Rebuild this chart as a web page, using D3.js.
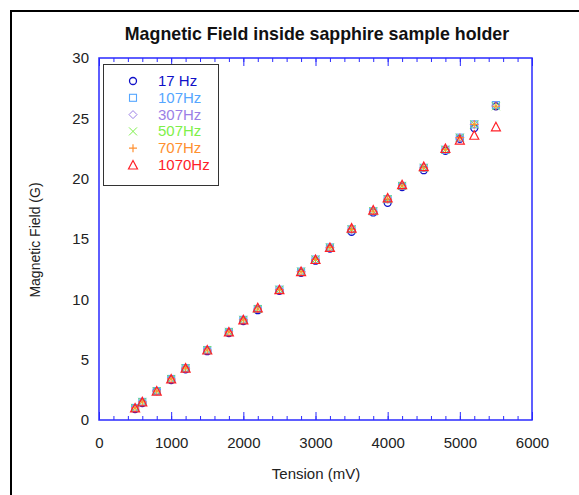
<!DOCTYPE html>
<meta charset="utf-8">
<style>
  body { margin: 0; background: #fff; }
  text { font-family: Arial, "Liberation Sans", sans-serif; }
</style>
<body>
<script src="https://d3js.org/d3.v7.min.js"></script>
<script>

var tension = [500, 600, 800, 1000, 1200, 1500, 1800, 2000, 2200, 2500, 2800, 3000, 3200, 3500, 3800, 4000, 4200, 4500, 4800, 5000, 5200, 5500];

var f17   = [0.9, 1.4, 2.4, 3.3, 4.2, 5.7, 7.2, 8.2, 9.1, 10.7, 12.2, 13.2, 14.2, 15.6, 17.2, 18.0, 19.3, 20.7, 22.3, 23.3, 24.2, 26.0];
var f107  = [1.0, 1.5, 2.4, 3.4, 4.3, 5.8, 7.3, 8.3, 9.2, 10.8, 12.3, 13.3, 14.3, 15.8, 17.3, 18.3, 19.4, 20.9, 22.4, 23.4, 24.5, 26.1];
var f307  = [1.0, 1.5, 2.4, 3.4, 4.3, 5.8, 7.3, 8.3, 9.2, 10.8, 12.3, 13.3, 14.3, 15.8, 17.3, 18.3, 19.4, 20.9, 22.4, 23.4, 24.5, 26.1];
var f507  = [1.0, 1.5, 2.4, 3.4, 4.3, 5.8, 7.3, 8.3, 9.2, 10.8, 12.3, 13.3, 14.3, 15.8, 17.3, 18.3, 19.4, 20.9, 22.4, 23.4, 24.5, 26.0];
var f707  = [1.0, 1.5, 2.4, 3.4, 4.3, 5.8, 7.3, 8.3, 9.2, 10.8, 12.3, 13.3, 14.3, 15.8, 17.3, 18.3, 19.4, 20.9, 22.4, 23.4, 24.5, 26.0];
var f1070 = [1.0, 1.5, 2.4, 3.4, 4.3, 5.8, 7.3, 8.3, 9.3, 10.8, 12.3, 13.3, 14.3, 15.9, 17.4, 18.4, 19.5, 21.0, 22.5, 23.2, 23.6, 24.3];

var seriesNames = ["17 Hz", "107Hz", "307Hz", "507Hz", "707Hz", "1070Hz"];
var seriesColors = ["#1010c8", "#55a6ff", "#9b7fe6", "#7ef04a", "#ff9030", "#ff2028"];
var seriesSymbols = ["circle", "square", "diamond", "cross", "plus", "triangle"];
var seriesValues = [f17, f107, f307, f507, f707, f1070];

var xTicks = [0, 1000, 2000, 3000, 4000, 5000, 6000];
var yTicks = [0, 5, 10, 15, 20, 25, 30];

var width = 579, height = 495;
var plotLeft = 99, plotRight = 532, plotTop = 58, plotBottom = 420;

var svg = d3.select("body").append("svg")
    .attr("width", width)
    .attr("height", height);

// outer frame
svg.append("rect")
    .attr("x", 11).attr("y", 11)
    .attr("width", 620).attr("height", 520)
    .attr("fill", "none")
    .attr("stroke", "#000")
    .attr("stroke-width", 2);

var x = d3.scaleLinear().domain([0, 6000]).range([plotLeft, plotRight]);
var y = d3.scaleLinear().domain([0, 30]).range([plotBottom, plotTop]);

var minor = d3.range(0, 6001, 200);

function blueTicks(g) {
  g.select(".domain").remove();
  g.selectAll("line").attr("stroke", "#2a2aff");
}

// bottom ticks (inside)
svg.append("g")
    .attr("transform", "translate(0," + plotBottom + ")")
    .call(d3.axisBottom(x).tickValues(minor).tickSize(-4).tickFormat(""))
    .call(blueTicks);

svg.append("g")
    .attr("transform", "translate(0," + plotBottom + ")")
    .call(d3.axisBottom(x).tickValues(xTicks).tickSizeInner(-8).tickSizeOuter(0).tickPadding(17).tickFormat(d3.format("d")))
    .call(blueTicks)
    .call(function(g) { g.selectAll("text").attr("font-size", 15).attr("fill", "#222"); });

// top ticks (inside)
svg.append("g")
    .attr("transform", "translate(0," + plotTop + ")")
    .call(d3.axisTop(x).tickValues(minor).tickSize(-4).tickFormat(""))
    .call(blueTicks);

svg.append("g")
    .attr("transform", "translate(0," + plotTop + ")")
    .call(d3.axisTop(x).tickValues(xTicks).tickSize(-8).tickFormat(""))
    .call(blueTicks);

// y labels
svg.append("g")
    .attr("transform", "translate(" + plotLeft + ",0)")
    .call(d3.axisLeft(y).tickValues(yTicks).tickSize(0).tickPadding(10))
    .call(function(g) {
      g.select(".domain").remove();
      g.selectAll("text").attr("font-size", 15).attr("fill", "#222");
    });

// plot box
svg.append("rect")
    .attr("x", plotLeft).attr("y", plotTop)
    .attr("width", plotRight - plotLeft).attr("height", plotBottom - plotTop)
    .attr("fill", "none")
    .attr("stroke", "#2a2aff")
    .attr("stroke-width", 1.5);

function marker(sel, type, color, s) {
  var h = s / 2;
  if (type === "circle") {
    sel.append("circle").attr("r", h - 0.5).attr("fill", "none").attr("stroke", color).attr("stroke-width", 1.3);
  } else if (type === "square") {
    sel.append("rect").attr("x", -h + 0.5).attr("y", -h + 0.5).attr("width", s - 1).attr("height", s - 1)
      .attr("fill", "none").attr("stroke", color).attr("stroke-width", 1.1);
  } else if (type === "diamond") {
    sel.append("path").attr("d", "M0," + (-h) + "L" + h + ",0L0," + h + "L" + (-h) + ",0Z")
      .attr("fill", "none").attr("stroke", color).attr("stroke-width", 1);
  } else if (type === "cross") {
    sel.append("path").attr("d", "M" + (-h) + "," + (-h) + "L" + h + "," + h + "M" + h + "," + (-h) + "L" + (-h) + "," + h)
      .attr("fill", "none").attr("stroke", color).attr("stroke-width", 1);
  } else if (type === "plus") {
    sel.append("path").attr("d", "M0," + (-h) + "V" + h + "M" + (-h) + ",0H" + h)
      .attr("fill", "none").attr("stroke", color).attr("stroke-width", 1.2);
  } else {
    sel.append("path").attr("d", "M0," + (-h - 0.5) + "L" + (h + 0.5) + "," + h + "L" + (-h - 0.5) + "," + h + "Z")
      .attr("fill", "none").attr("stroke", color).attr("stroke-width", 1.2);
  }
}

seriesValues.forEach(function(vals, i) {
  var g = svg.append("g");
  g.selectAll("g")
      .data(tension)
    .enter().append("g")
      .attr("transform", function(d, j) { return "translate(" + x(d) + "," + y(vals[j]) + ")"; })
      .each(function() { marker(d3.select(this), seriesSymbols[i], seriesColors[i], 8); });
});

// legend
svg.append("rect")
    .attr("x", 103.5).attr("y", 64.5)
    .attr("width", 115).attr("height", 121)
    .attr("fill", "#fff")
    .attr("stroke", "#333")
    .attr("stroke-width", 1);

var leg = svg.selectAll(".leg")
    .data(seriesNames)
  .enter().append("g")
    .attr("class", "leg")
    .attr("transform", function(d, i) { return "translate(133," + (81 + i * 16.8) + ")"; });

leg.each(function(d, i) { marker(d3.select(this), seriesSymbols[i], seriesColors[i], 8); });

leg.append("text")
    .attr("x", 25)
    .attr("y", 5)
    .attr("font-size", 15)
    .attr("fill", function(d, i) { return seriesColors[i]; })
    .text(function(d) { return d; });

// title and axis labels
svg.append("text")
    .attr("x", 317).attr("y", 40)
    .attr("text-anchor", "middle")
    .attr("font-size", 17.8)
    .attr("font-weight", "bold")
    .attr("fill", "#111")
    .text("Magnetic Field inside sapphire sample holder");

svg.append("text")
    .attr("x", 316).attr("y", 479)
    .attr("text-anchor", "middle")
    .attr("font-size", 15)
    .attr("fill", "#222")
    .text("Tension (mV)");

svg.append("text")
    .attr("transform", "translate(40,240)rotate(-90)")
    .attr("text-anchor", "middle")
    .attr("font-size", 14)
    .attr("fill", "#222")
    .text("Magnetic Field (G)");

</script>
</body>
</html>
